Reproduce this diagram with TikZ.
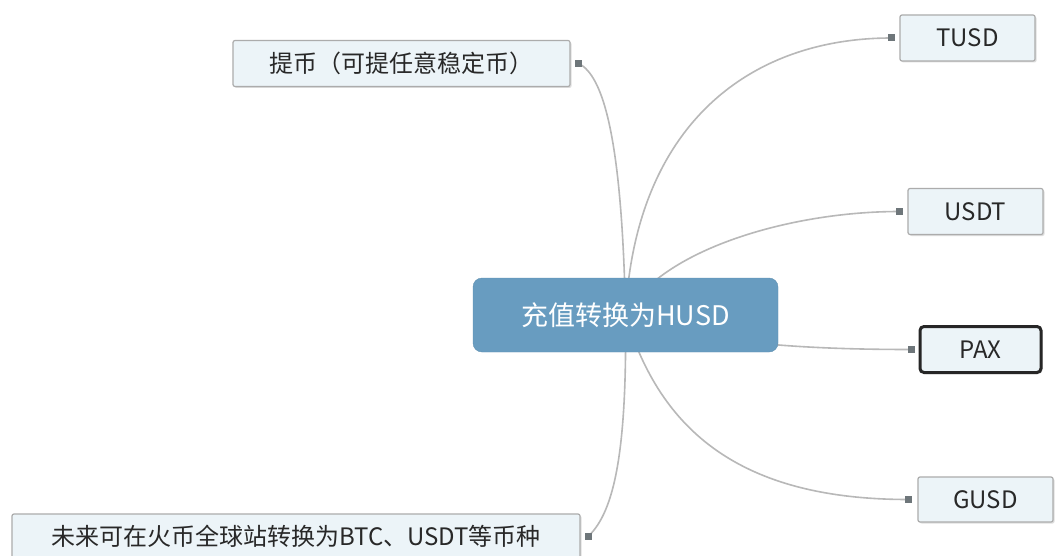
\documentclass[tikz,border=0pt]{standalone}
\usepackage{fontspec}
\newfontfamily\cjk{Noto Sans CJK SC}
\usepackage{tikz}
\usetikzlibrary{shadows}
\definecolor{hubblue}{RGB}{104,156,192}
\definecolor{leaffill}{RGB}{236,244,248}
\definecolor{leafline}{RGB}{172,172,172}
\definecolor{linkgray}{RGB}{184,184,184}
\definecolor{dotgray}{RGB}{110,118,122}
\definecolor{textgray}{RGB}{40,40,40}
\pgfdeclarelayer{back}
\pgfsetlayers{back,main}
\tikzstyle{hub} = [rectangle, rounded corners=9pt, fill=hubblue, draw=hubblue!92!black, text=white, minimum width=305pt, minimum height=74pt, font=\cjk\fontsize{27}{32}\selectfont]
\tikzstyle{leaf} = [rectangle, rounded corners=2pt, fill=leaffill, draw=leafline, line width=1.2pt, text=textgray, minimum height=46pt, font=\cjk\fontsize{24}{28}\selectfont, drop shadow={shadow xshift=1.5pt, shadow yshift=-1.5pt, fill=black!25, opacity=0.5}]
\tikzstyle{picked} = [draw=black!85, line width=3pt, rounded corners=4pt]
\tikzstyle{link} = [linkgray, line width=1.6pt]
\tikzstyle{knob} = [dotgray]

\begin{document}
\begin{tikzpicture}[x=1pt, y=-1pt]
\useasboundingbox (0,0) rectangle (1056,556);

\node [hub] (h) at (625.5,315) {充值转换为HUSD};

\node [leaf, minimum width=135pt] (tusd) at (967.5,38) {TUSD};
\node [leaf, minimum width=135pt] (usdt) at (975.5,211.5) {USDT};
\node [leaf, picked, minimum width=121pt] (pax) at (980.5,349.5) {PAX};
\node [leaf, minimum width=135pt, minimum height=45pt] (gusd) at (985.5,499.5) {GUSD};

\node [leaf, minimum width=337pt] (tibi) at (401.5,63.5) {提币（可提任意稳定币）};
\node [leaf, minimum width=568pt, minimum height=44pt] (weilai) at (296,536) {未来可在火币全球站转换为BTC、USDT等币种};

\coordinate (tusd-in) at ([xshift=-8pt]tusd.west);
\coordinate (usdt-in) at ([xshift=-8pt]usdt.west);
\coordinate (pax-in) at ([xshift=-7pt]pax.west);
\coordinate (gusd-in) at ([xshift=-9pt]gusd.west);
\coordinate (tibi-in) at ([xshift=8pt]tibi.east);
\coordinate (weilai-in) at ([xshift=8pt]weilai.east);

\begin{pgfonlayer}{back}
\fill [white] (0,0) rectangle (1056,556);
\draw [link] (h.center) .. controls +(9.5,-190) and +(-142,0) .. (tusd-in);
\draw [link] (h.center) .. controls +(35,-65) and +(-110,0) .. (usdt-in);
\draw [link] (h.center) .. controls +(74.5,30) and +(-93,0) .. (pax-in);
\draw [link] (h.center) .. controls +(34.5,115) and +(-169,0) .. (gusd-in);
\draw [link] (h.center) .. controls +(-3.5,-175) and +(25,12) .. (tibi-in);
\draw [link] (h.center) .. controls +(1.5,135) and +(26,-25) .. (weilai-in);
\end{pgfonlayer}

\fill [knob] (tusd-in) +(-3.5,-3.5) rectangle +(3.5,3.5);
\fill [knob] (usdt-in) +(-3.5,-3.5) rectangle +(3.5,3.5);
\fill [knob] (pax-in) +(-3.5,-3.5) rectangle +(3.5,3.5);
\fill [knob] (gusd-in) +(-3.5,-3.5) rectangle +(3.5,3.5);
\fill [knob] (tibi-in) +(-3.5,-3.5) rectangle +(3.5,3.5);
\fill [knob] (weilai-in) +(-3.5,-3.5) rectangle +(3.5,3.5);
\end{tikzpicture}
\end{document}
